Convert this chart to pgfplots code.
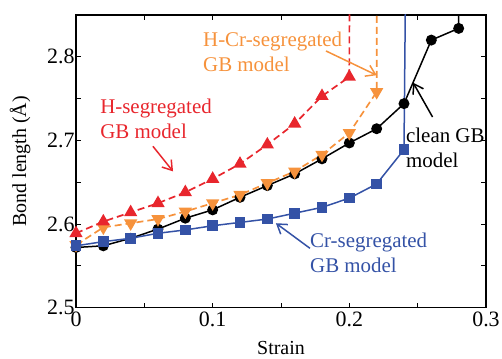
\documentclass[border=0pt]{standalone}
\usepackage{fontspec}
\setmainfont{Liberation Serif}
\usepackage{pgfplots}
\pgfplotsset{compat=1.18}
\usetikzlibrary{arrows.meta}
\definecolor{cred}{RGB}{232,38,45}
\definecolor{corange}{RGB}{246,146,60}
\definecolor{cblue}{RGB}{52,82,166}
\begin{document}
\begin{tikzpicture}
\path[use as bounding box] (-76bp,-51.3bp) rectangle (426bp,307.7bp);
\begin{axis}[
  at={(0,0)}, anchor=south west,
  scale only axis, width=410bp, height=292.7bp,
  xmin=0, xmax=0.3, ymin=2.5, ymax=2.85,
  xtick={0,0.1,0.2,0.3}, xticklabels={0,0.1,0.2,0.3},
  ytick={2.5,2.6,2.7,2.8}, yticklabels={2.5,2.6,2.7,2.8},
  minor xtick={0.05,0.15,0.25}, minor ytick={2.55,2.65,2.75},
  tick align=inside, tick pos=both,
  major tick length=5bp, minor tick length=5bp,
  every tick/.style={black, line width=0.8bp},
  axis line style={line width=1.1bp},
  tick label style={font=\fontsize{22}{22}\selectfont},
  /pgf/number format/assume math mode=true,
  xticklabel style={yshift=-1bp},
  yticklabel style={xshift=2bp},
  xlabel={Strain}, ylabel={Bond length (Å)},
  label style={font=\fontsize{20}{20}\selectfont},
  xlabel style={at={(axis description cs:0.5,-0.137)}, anchor=center},
  ylabel style={at={(axis description cs:-0.1366,0.5)}, anchor=center},
  clip=true,
]
% clean GB
\addplot[black, line width=1.5bp, mark=*, mark size=4.7bp, mark indices={1,...,15}, mark options={solid, fill=black}] coordinates {
(0,2.572) (0.02,2.574) (0.04,2.583) (0.06,2.594) (0.08,2.607) (0.10,2.617) (0.12,2.632) (0.14,2.646) (0.16,2.660) (0.18,2.678) (0.20,2.697) (0.22,2.714) (0.24,2.744) (0.26,2.820) (0.28,2.834) (0.28,2.9)};
% H-Cr
\addplot[color=corange, line width=1.7bp, dash pattern=on 7bp off 4bp, mark=triangle*, mark size=6bp, mark indices={1,...,12}, mark options={solid, fill=corange, rotate=180}] coordinates {
(0,2.575) (0.02,2.596) (0.04,2.601) (0.06,2.606) (0.08,2.615) (0.10,2.625) (0.12,2.635) (0.14,2.649) (0.16,2.663) (0.18,2.683) (0.20,2.709) (0.22,2.758) (0.2201,2.9)};
% H
\addplot[color=cred, line width=1.7bp, dash pattern=on 7bp off 4bp, mark=triangle*, mark size=6bp, mark indices={1,...,11}, mark options={solid, fill=cred}] coordinates {
(0,2.589) (0.02,2.603) (0.04,2.614) (0.06,2.625) (0.08,2.638) (0.10,2.654) (0.12,2.672) (0.14,2.695) (0.16,2.720) (0.18,2.753) (0.20,2.776) (0.2001,2.9)};
% Cr
\addplot[cblue, line width=1.5bp, mark=square*, mark size=4.6bp, mark indices={1,...,13}, mark options={solid, fill=cblue}] coordinates {
(0,2.574) (0.02,2.579) (0.04,2.583) (0.06,2.589) (0.08,2.593) (0.10,2.598) (0.12,2.602) (0.14,2.606) (0.16,2.613) (0.18,2.620) (0.20,2.631) (0.22,2.648) (0.24,2.689) (0.2412,2.9)};
% annotations
\node[corange, anchor=west, align=left, inner sep=0pt, font=\fontsize{21}{25}\selectfont] at (axis cs:0.0929,2.806) {H-Cr-segregated\\GB model};
\draw[corange, line width=1.5bp, -{Straight Barb[length=9bp,width=12bp]}] (axis cs:0.1829,2.807) -- (axis cs:0.220,2.778);
\node[cred, anchor=west, align=left, inner sep=0pt, font=\fontsize{21}{25}\selectfont] at (axis cs:0.0176,2.726) {H-segregated\\GB model};
\draw[cred, line width=1.5bp, -{Straight Barb[length=9bp,width=12bp]}] (axis cs:0.0563,2.693) -- (axis cs:0.0710,2.663);
\node[black, anchor=west, align=left, inner sep=0pt, font=\fontsize{21}{25}\selectfont] at (axis cs:0.2414,2.6915) {clean GB\\model};
\draw[black, line width=1.5bp, -{Straight Barb[length=9bp,width=12bp]}] (axis cs:0.2609,2.728) -- (axis cs:0.2467,2.769);
\node[cblue, anchor=west, align=left, inner sep=0pt, font=\fontsize{21}{25}\selectfont] at (axis cs:0.1712,2.5656) {Cr-segregated\\GB model};
\draw[cblue, line width=1.5bp, -{Straight Barb[length=9bp,width=12bp]}] (axis cs:0.1712,2.571) -- (axis cs:0.1463,2.601);
\end{axis}
\end{tikzpicture}
\end{document}
